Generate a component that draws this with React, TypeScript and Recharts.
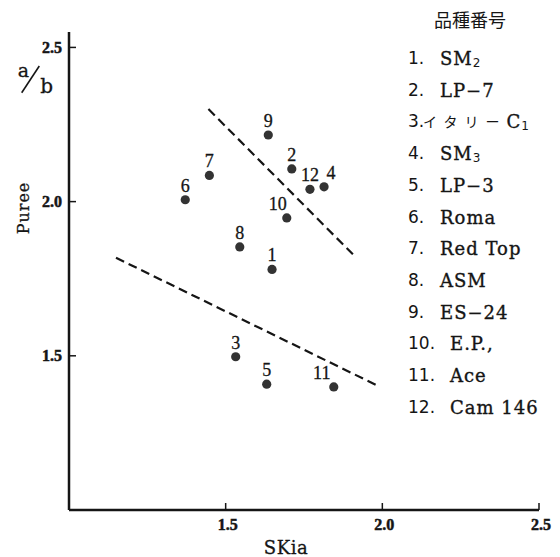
import { ScatterChart, Scatter, XAxis, YAxis, ReferenceLine } from "recharts"

const ids = [1, 2, 3, 4, 5, 6, 7, 8, 9, 10, 11, 12]
const skia = [1.648, 1.711, 1.532, 1.814, 1.631, 1.371, 1.448, 1.545, 1.636, 1.695, 1.845, 1.769]
const puree = [1.78, 2.106, 1.497, 2.048, 1.408, 2.006, 2.085, 1.853, 2.216, 1.947, 1.399, 2.04]
const names = ["SM", "LP−7", "イタリーC", "SM", "LP−3", "Roma", "Red Top", "ASM", "ES−24", "E.P.,", "Ace", "Cam 146"]
const nameSubs = ["2", "", "1", "3", "", "", "", "", "", "", "", ""]
const xTicks = [1.5, 2.0, 2.5]
const yTicks = [1.5, 2.0, 2.5]
const upperLine = [{ x: 1.445, y: 2.3 }, { x: 1.906, y: 1.829 }]
const lowerLine = [{ x: 1.15, y: 1.818 }, { x: 1.985, y: 1.403 }]

const points = ids.map((id, i) => ({ id, x: skia[i], y: puree[i] }))

// a few number labels sit off-centre in the original
const labelDx: Record<number, number> = { 4: 7, 10: -9, 11: -12 }

const INK = "#151515"
const SERIF = "'DejaVu Serif', serif"
const TIMES = "'Liberation Serif', serif"

const YTick = (props: any) => {
  const { x, y, payload } = props
  return (
    <g>
      <line x1={x} x2={x + 7} y1={y} y2={y} stroke={INK} strokeWidth={1.5} />
      <text x={x - 7} y={y} textAnchor="end" dominantBaseline="central" fontFamily={TIMES} fontWeight={700} fontSize={16} fill={INK} stroke={INK} strokeWidth={0.5}>
        {payload.value.toFixed(1)}
      </text>
    </g>
  )
}

const XTick = (props: any) => {
  const { x, y, payload } = props
  return (
    <g>
      <line x1={x} x2={x} y1={y} y2={y - 7} stroke={INK} strokeWidth={1.5} />
      <text x={x + 2} y={y + 14} textAnchor="middle" dominantBaseline="central" fontFamily={TIMES} fontWeight={700} fontSize={16} fill={INK} stroke={INK} strokeWidth={0.5}>
        {payload.value.toFixed(1)}
      </text>
    </g>
  )
}

const Dot = (props: any) => {
  const { cx, cy, payload } = props
  const dx = labelDx[payload.id] || 0
  return (
    <g>
      <circle cx={cx} cy={cy} r={4.6} fill="#333" />
      <text x={cx + dx} y={cy - 14} textAnchor="middle" dominantBaseline="central" fontFamily={TIMES} fontSize={18} fill={INK} stroke={INK} strokeWidth={0.3}>
        {payload.id}
      </text>
    </g>
  )
}

const NameText = ({ name, sub, x, y }: { name: string; sub: string; x: number; y: number }) => {
  const runs = name.split(/([\u3040-\u30ff]+)/).filter((s) => s)
  return (
    <text x={x} y={y} dominantBaseline="central" fontFamily={SERIF} fontSize={18} letterSpacing={1} fill={INK} stroke={INK} strokeWidth={0.35}>
      {runs.map((r, i) =>
        /[\u3040-\u30ff]/.test(r) ? (
          <tspan key={i} fontFamily="'Noto Sans CJK JP'" fontSize={14} letterSpacing={7} strokeWidth={0}>
            {r}
          </tspan>
        ) : (
          <tspan key={i}>{r}</tspan>
        )
      )}
      {sub && (
        <tspan fontFamily="'DejaVu Sans'" fontSize={12} dy={5} strokeWidth={0}>
          {sub}
        </tspan>
      )}
    </text>
  )
}

const App = () => {
  return (
    <div style={{ position: "relative", width: 552, height: 549, background: "#fff" }}>
      <ScatterChart width={552} height={549} margin={{ top: 24, right: 21, bottom: 17, left: 11 }}>
        <XAxis
          type="number"
          dataKey="x"
          domain={[1.0, 2.5]}
          ticks={xTicks}
          height={30}
          tickSize={0}
          tickMargin={0}
          tickLine={false}
          axisLine={{ stroke: INK, strokeWidth: 2.5 }}
          tick={<XTick />}
        />
        <YAxis
          type="number"
          dataKey="y"
          domain={[1.0, 2.55]}
          ticks={yTicks}
          width={50}
          tickSize={0}
          tickMargin={0}
          tickLine={false}
          axisLine={{ stroke: INK, strokeWidth: 2.5 }}
          tick={<YTick />}
        />
        <ReferenceLine segment={upperLine} stroke={INK} strokeWidth={2.2} strokeDasharray="9 5" />
        <ReferenceLine segment={lowerLine} stroke={INK} strokeWidth={2.2} strokeDasharray="9 5" />
        <Scatter data={points} shape={<Dot />} isAnimationActive={false} />
      </ScatterChart>

      {/* overlay in page coordinates: axis titles and the variety key */}
      <svg width={560} height={557} style={{ position: "absolute", left: -8, top: -8, pointerEvents: "none" }}>
        <text x={23} y={208} transform="rotate(-90 23 208)" textAnchor="middle" dominantBaseline="central" fontFamily={SERIF} fontSize={16} letterSpacing={1} fill={INK} stroke={INK} strokeWidth={0.3}>
          Puree
        </text>
        <text x={286} y={547} textAnchor="middle" dominantBaseline="central" fontFamily={SERIF} fontSize={18} letterSpacing={0.5} fill={INK} stroke={INK} strokeWidth={0.3}>
          SKia
        </text>
        <text x={23.3} y={77.3} textAnchor="middle" fontFamily={SERIF} fontSize={19} fill={INK} stroke={INK} strokeWidth={0.3}>a</text>
        <line x1={21.7} y1={92.7} x2={39.3} y2={66} stroke={INK} strokeWidth={1.6} />
        <text x={46.7} y={93.3} textAnchor="middle" fontFamily={SERIF} fontSize={20} fill={INK} stroke={INK} strokeWidth={0.3}>b</text>

        <text x={470} y={19} textAnchor="middle" dominantBaseline="central" fontFamily="'Noto Sans CJK JP'" fontSize={18} fill={INK}>
          品種番号
        </text>
        {ids.map((id, i) => {
          const cy = 58 + 31.7 * i
          const nx = id >= 10 ? 450 : /[\u3040-\u30ff]/.test(names[i]) ? 423 : 440
          return (
            <g key={id}>
              <text x={408} y={cy} dominantBaseline="central" fontFamily="'DejaVu Sans'" fontSize={17} fill={INK}>
                {id}.
              </text>
              <NameText name={names[i]} sub={nameSubs[i]} x={nx} y={cy} />
            </g>
          )
        })}
      </svg>
    </div>
  )
}

export default App
